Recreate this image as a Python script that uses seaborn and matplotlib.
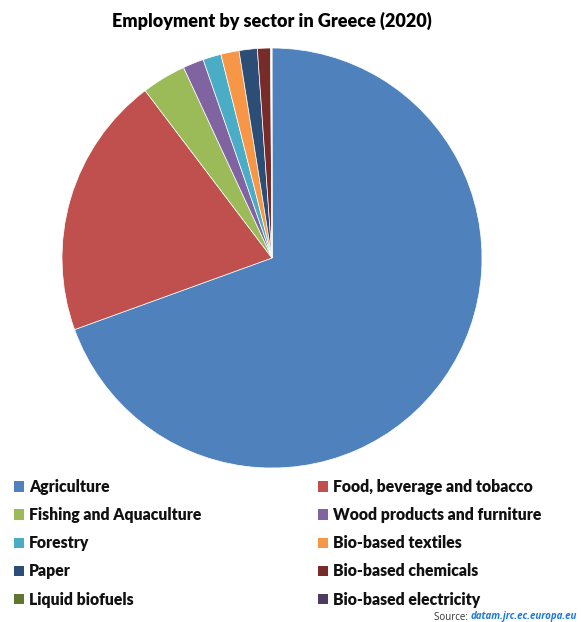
import matplotlib
matplotlib.use("Agg")
import matplotlib.pyplot as plt
from matplotlib.patches import Patch
import seaborn as sns

sectors = ["Agriculture", "Food, beverage and tobacco", "Fishing and Aquaculture",
           "Wood products and furniture", "Forestry", "Bio-based textiles",
           "Paper", "Bio-based chemicals", "Liquid biofuels", "Bio-based electricity"]
shares = [69.4, 20.2, 3.4, 1.6, 1.4, 1.4, 1.4, 1.0, 0.08, 0.03]
colors = ["#4F81BD", "#C0504D", "#9BBB59", "#8064A2", "#4BACC6",
          "#F79646", "#2C4D75", "#772C2A", "#5F7530", "#4D3B62"]

sns.set_theme(style="white")
plt.rcParams['font.family'] = ['Lato', 'DejaVu Sans']
palette = sns.color_palette(colors)

W, H = 581, 622
fig = plt.figure(figsize=(W / 100, H / 100), dpi=100)

cx, cy, r = 272, 258, 210
ax = fig.add_axes([(cx - r) / W, 1 - (cy + r) / H, 2 * r / W, 2 * r / H])
ax.pie(shares, colors=palette, startangle=90, counterclock=False,
       wedgeprops=dict(edgecolor="white", linewidth=0.5))
ax.set_aspect("equal")
ax.set_xlim(-1, 1)
ax.set_ylim(-1, 1)
ax.axis("off")

fig.text(cx / W, 1 - 21 / H, "Employment by sector in Greece (2020)",
         ha="center", va="center", fontsize=13.0, fontweight="heavy", color="#000000")

handles = [Patch(facecolor=palette[i], edgecolor="none", label=sectors[i]) for i in range(len(sectors))]
left = [handles[i] for i in (0, 2, 4, 6, 8)]
right = [handles[i] for i in (1, 3, 5, 7, 9)]
common = dict(frameon=False, handlelength=0.64, handleheight=0.64,
              handletextpad=0.33, labelspacing=0.775, borderpad=0, borderaxespad=0,
              prop=dict(family=['Lato', 'DejaVu Sans'], weight='heavy', size=11.3))
lg1 = fig.legend(handles=left, loc="upper left", bbox_to_anchor=(14 / W, 1 - 479 / H), **common)
lg2 = fig.legend(handles=right, loc="upper left", bbox_to_anchor=(318 / W, 1 - 479 / H), **common)
for lg in (lg1, lg2):
    for t in lg.get_texts():
        t.set_color("#111111")

fig.text(471 / W, 1 - 617 / H, "Source: ", ha="right", va="center", fontsize=7.0, color="#333333",
         family=['Open Sans', 'DejaVu Sans'])
fig.text(471 / W, 1 - 617 / H, "datam.jrc.ec.europa.eu", ha="left", va="center", fontsize=7.0,
         color="#1F7BD8", fontweight="bold", fontstyle="italic", family=['Open Sans', 'DejaVu Sans'])

fig.savefig("out.png", dpi=100, facecolor="white")
